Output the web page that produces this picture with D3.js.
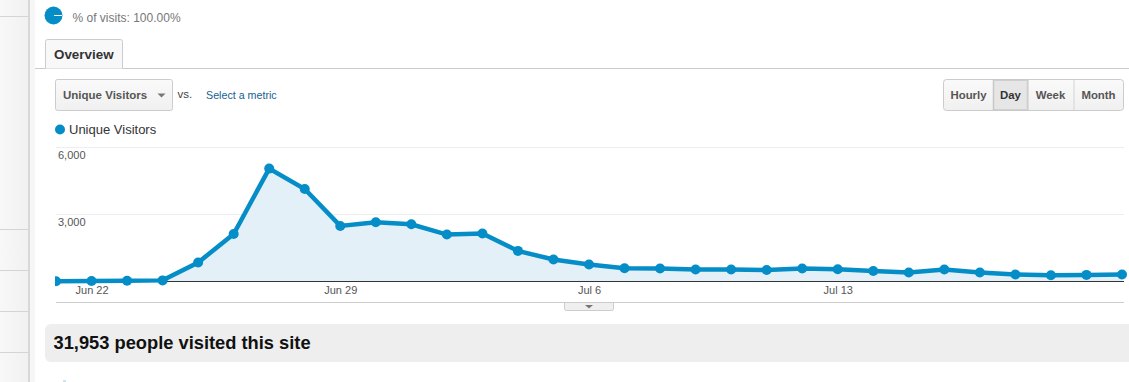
<!DOCTYPE html>
<html>
<head>
<meta charset="utf-8">
<script src="https://d3js.org/d3.v7.min.js"></script>
<style>
html, body { margin: 0; padding: 0; background: #fff; overflow: hidden; }
text { font-family: "Liberation Sans", Arial, sans-serif; }
</style>
</head>
<body>
<div id="chart"></div>
<script>
// Unique visitors per day
const days = ["Jun 21","Jun 22","Jun 23","Jun 24","Jun 25","Jun 26","Jun 27","Jun 28","Jun 29","Jun 30",
    "Jul 1","Jul 2","Jul 3","Jul 4","Jul 5","Jul 6","Jul 7","Jul 8","Jul 9","Jul 10",
    "Jul 11","Jul 12","Jul 13","Jul 14","Jul 15","Jul 16","Jul 17","Jul 18","Jul 19","Jul 20","Jul 21"];
const visitors = [10,20,30,50,843,2113,5017,4110,2470,2633,
    2545,2087,2130,1360,977,755,590,577,533,533,
    515,577,546,470,400,533,400,310,280,293,310];
const yTicks = [3000,6000];
const xTickLabels = ["Jun 22","Jun 29","Jul 6","Jul 13"];
const periods = ["Hourly","Day","Week","Month"];
const sideLines = [16,229,270,311,352];

const width = 1129, height = 382;
const blue = "#058dc7";

const svg = d3.select("#chart").append("svg")
    .attr("width", width)
    .attr("height", height)
    .style("display", "block");

const defs = svg.append("defs");
const btnGrad = defs.append("linearGradient").attr("id", "btn").attr("x2", 0).attr("y2", 1);
btnGrad.append("stop").attr("offset", 0).attr("stop-color", "#fafafa");
btnGrad.append("stop").attr("offset", 1).attr("stop-color", "#f0f0f0");
const sideGrad = defs.append("linearGradient").attr("id", "side");
sideGrad.append("stop").attr("offset", 0).attr("stop-color", "#f8f8f8");
sideGrad.append("stop").attr("offset", 1).attr("stop-color", "#f1f1f1");

//Left sidebar
svg.append("rect").attr("width", 28).attr("height", height).attr("fill", "url(#side)");
svg.selectAll(".sideLine")
    .data(sideLines)
    .enter()
    .append("rect")
    .attr("class", "sideLine")
    .attr("y", d => d)
    .attr("width", 28)
    .attr("height", 1)
    .attr("fill", "#d4d4d4");
svg.append("rect").attr("x", 28).attr("width", 2).attr("height", height).attr("fill", "#d8d8d8");
svg.append("rect").attr("x", 30).attr("width", 5).attr("height", height).attr("fill", "#f6f6f6");

//Segment line at the top
svg.append("circle").attr("cx", 53.5).attr("cy", 15.5).attr("r", 9).attr("fill", blue);
svg.append("rect").attr("x", 54).attr("y", 15).attr("width", 8).attr("height", 1).attr("fill", "#fff");
svg.append("text").attr("x", 72.5).attr("y", 22).attr("font-size", 12).attr("fill", "#777")
    .text("% of visits: 100.00%");

//Overview tab
svg.append("rect").attr("x", 35).attr("y", 68).attr("width", width - 35).attr("height", 1).attr("fill", "#ccc");
svg.append("path")
    .attr("d", "M45.5,68.5V41.5a2,2 0 0 1 2,-2H120.5a2,2 0 0 1 2,2V68.5")
    .attr("fill", "#f8f8f8")
    .attr("stroke", "#ccc");
svg.append("text").attr("x", 54).attr("y", 59).attr("font-size", 13.4).attr("font-weight", "bold").attr("fill", "#333")
    .text("Overview");

//Metric picker
svg.append("rect").attr("x", 55.5).attr("y", 79.5).attr("width", 117).attr("height", 31).attr("rx", 2)
    .attr("fill", "url(#btn)").attr("stroke", "#ccc");
svg.append("text").attr("x", 63).attr("y", 99).attr("font-size", 11.5).attr("font-weight", "bold").attr("fill", "#555")
    .text("Unique Visitors");
svg.append("path").attr("d", "M157.5,93.5h8l-4,4z").attr("fill", "#777");
svg.append("text").attr("x", 177.5).attr("y", 98).attr("font-size", 11.5).attr("fill", "#444").text("vs.");
svg.append("text").attr("x", 206).attr("y", 99).attr("font-size", 10.7).attr("fill", "#15618f").text("Select a metric");

//Hourly / Day / Week / Month buttons
const btnEdges = [943.5, 993.5, 1027.5, 1073.5, 1123.5];
svg.append("rect").attr("x", btnEdges[0]).attr("y", 79.5).attr("width", btnEdges[4] - btnEdges[0]).attr("height", 31).attr("rx", 3)
    .attr("fill", "url(#btn)").attr("stroke", "#ccc");
svg.append("rect").attr("x", btnEdges[1]).attr("y", 80).attr("width", btnEdges[2] - btnEdges[1]).attr("height", 30)
    .attr("fill", "#e6e6e6").attr("stroke", "#c8c8c8").attr("stroke-width", 1.5);
periods.forEach((p, i) => {
    if (i > 1) {
        svg.append("rect").attr("x", btnEdges[i]).attr("y", 80).attr("width", 1).attr("height", 30).attr("fill", "#d4d4d4");
    }
    svg.append("text")
        .attr("x", (btnEdges[i] + btnEdges[i + 1]) / 2)
        .attr("y", 99)
        .attr("text-anchor", "middle")
        .attr("font-size", 11.4)
        .attr("font-weight", "bold")
        .attr("fill", p == "Day" ? "#333" : "#555")
        .text(p);
});

//Legend
svg.append("circle").attr("cx", 60).attr("cy", 129.5).attr("r", 5).attr("fill", blue);
svg.append("text").attr("x", 69).attr("y", 134).attr("font-size", 13).attr("fill", "#333").text("Unique Visitors");

//Scales
const x = d3.scalePoint().domain(days).range([56, 1122]);
const y = d3.scaleLinear().domain([0, 6000]).range([281.5, 146.5]);

//Gridlines and y labels
svg.selectAll(".grid")
    .data(yTicks)
    .enter()
    .append("rect")
    .attr("class", "grid")
    .attr("x", 56)
    .attr("y", d => Math.round(y(d)))
    .attr("width", 1068)
    .attr("height", 1)
    .attr("fill", "#eee");
svg.selectAll(".yLabel")
    .data(yTicks)
    .enter()
    .append("text")
    .attr("class", "yLabel")
    .attr("x", 58)
    .attr("y", d => y(d) + 12)
    .attr("font-size", 11)
    .attr("fill", "#555")
    .text(d3.format(","));

//Area, baseline, line, dots
svg.append("path")
    .attr("d", d3.area().x((d, i) => x(days[i])).y0(y(0)).y1(d => y(d))(visitors))
    .attr("fill", "#e3f0f7");

const xAxis = svg.append("g")
    .attr("transform", `translate(0,${y(0)})`)
    .call(d3.axisBottom(x).tickValues(xTickLabels).tickSize(0).tickPadding(5));
xAxis.select(".domain").attr("d", "M56,0H1124").attr("stroke", "#333").attr("stroke-width", 1);
xAxis.selectAll("text")
    .attr("font-family", null)
    .attr("font-size", 11)
    .attr("fill", "#555");

svg.append("path")
    .attr("d", d3.line().x((d, i) => x(days[i])).y(d => y(d))(visitors))
    .attr("fill", "none")
    .attr("stroke", blue)
    .attr("stroke-width", 4.5);

svg.selectAll(".dot")
    .data(visitors)
    .enter()
    .append("circle")
    .attr("class", "dot")
    .attr("cx", (d, i) => x(days[i]))
    .attr("cy", d => y(d))
    .attr("r", 5)
    .attr("fill", blue);

// clip what spills left of the plot
svg.append("rect").attr("x", 35).attr("y", 270).attr("width", 20).attr("height", 20).attr("fill", "#fff");

//Bottom rule and collapse handle
svg.append("rect").attr("x", 56).attr("y", 302).attr("width", 1068).attr("height", 1).attr("fill", "#ccc");
svg.append("path")
    .attr("d", "M564.5,303V308.5a2,2 0 0 0 2,2H611.5a2,2 0 0 0 2,-2V303")
    .attr("fill", "#efefef")
    .attr("stroke", "#ccc");
svg.append("path").attr("d", "M585,305h8l-4,3.5z").attr("fill", "#777");

//Summary band
svg.append("path")
    .attr("d", `M${width},324H51a6,6 0 0 0 -6,6V356a6,6 0 0 0 6,6H${width}z`)
    .attr("fill", "#eee");
svg.append("text").attr("x", 53.5).attr("y", 349).attr("font-size", 18.3).attr("font-weight", "bold").attr("fill", "#111")
    .text("31,953 people visited this site");

//Bit of the next icon at the bottom edge
svg.append("rect").attr("x", 63).attr("y", 380).attr("width", 3).attr("height", 2).attr("fill", "#cfe3ee");
</script>
</body>
</html>
